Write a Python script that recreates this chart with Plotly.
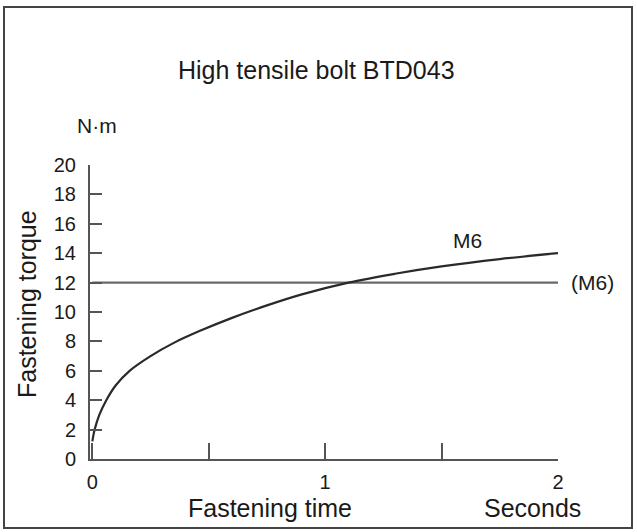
import plotly.graph_objects as go

# Data
time_s = [0, 0.01, 0.03, 0.06, 0.1, 0.16, 0.25, 0.35, 0.46, 0.6, 0.75, 0.9, 1.1, 1.3, 1.5, 1.75, 2.0]
torque_m6 = [1.2, 2.0, 3.0, 4.0, 5.0, 6.0, 7.0, 7.9, 8.7, 9.6, 10.45, 11.2, 12.0, 12.6, 13.1, 13.6, 14.0]
ref_time = [0, 2.0]
ref_torque = [12, 12]
y_ticks = [0, 2, 4, 6, 8, 10, 12, 14, 16, 18, 20]
x_ticks = [0, 0.5, 1, 1.5, 2]
x_tick_text = ["0", "", "1", "", "2"]

FONT = "Liberation Sans, Arial, sans-serif"
AX = "#555555"

fig = go.Figure()
fig.add_trace(go.Scatter(x=ref_time, y=ref_torque, mode="lines",
                         line=dict(color="#6a6a6a", width=2.2), showlegend=False,
                         hoverinfo="skip"))
fig.add_trace(go.Scatter(x=time_s, y=torque_m6, mode="lines",
                         line=dict(color="#2a2a2a", width=2.2, shape="spline", smoothing=1),
                         showlegend=False))

L, R, T, B = 90, 79, 165, 73
W, H = 637, 532
pw, ph = W - L - R, H - T - B


def px(x):
    return (x - L) / pw


def py(y):
    return (H - B - y) / ph


fig.update_layout(
    width=W, height=H,
    margin=dict(l=L, r=R, t=T, b=B),
    paper_bgcolor="white", plot_bgcolor="white",
    font=dict(family=FONT, color="#1a1a1a"),
    xaxis=dict(range=[-0.01, 2.0], showgrid=False, zeroline=False,
               showline=True, linecolor=AX, linewidth=2,
               tickmode="array", tickvals=x_ticks, ticktext=x_tick_text,
               ticks="inside", ticklen=16, tickwidth=2, tickcolor=AX,
               tickfont=dict(size=20, family=FONT, color="#1a1a1a"),
               ticklabelstandoff=4),
    yaxis=dict(range=[0, 20], showgrid=False, zeroline=False,
               showline=True, linecolor=AX, linewidth=2,
               tickmode="array", tickvals=y_ticks,
               ticks="inside", ticklen=12, tickwidth=2, tickcolor=AX,
               tickfont=dict(size=20, family=FONT, color="#1a1a1a"),
               ticklabelstandoff=8),
    shapes=[dict(type="rect", xref="paper", yref="paper",
                 x0=px(4), x1=px(632), y0=py(528), y1=py(7),
                 line=dict(color="#444444", width=2), fillcolor="rgba(0,0,0,0)")],
)

ann = [
    ("High tensile bolt BTD043", 316, 70, 25, 0),
    ("N·m", 97, 125, 21, 0),
    ("Fastening torque", 27, 304, 25, -90),
    ("Fastening time", 270, 508, 25, 0),
    ("Seconds", 532, 508, 25, 0),
    ("M6", 467, 240, 21, 0),
    ("(M6)", 592, 282, 21, 0),
]
for text, x, y, size, ang in ann:
    fig.add_annotation(text=text, xref="paper", yref="paper", x=px(x), y=py(y),
                       xanchor="center", yanchor="middle", showarrow=False,
                       textangle=ang, font=dict(size=size, family=FONT, color="#1a1a1a"))

fig.write_html("out.html")
